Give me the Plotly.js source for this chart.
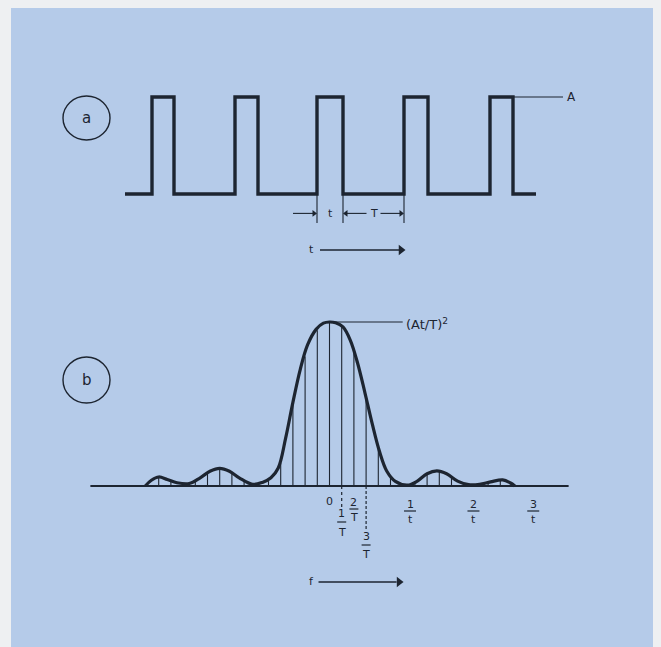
<!DOCTYPE html>
<html><head><meta charset="utf-8">
<script src="https://cdn.plot.ly/plotly-3.0.1.min.js"></script>
<style>html,body{margin:0;padding:0;background:#eef0f2;}#chart{width:661px;height:647px;}</style>
</head><body><div id="chart"></div>
<script>
// ---------- Panel (a): rectangular pulse train (time, arbitrary units) ----------
const pulseStart = 0;
const pulseEnd = 411;
const riseTimes = [27, 110, 192, 279, 365];
const fallTimes = [49, 133, 218, 303, 388];
const pulseAmp = 1;            // A

// ---------- Panel (b): power spectrum (f in units of 1/T, power / (At/T)^2) ----------
const harmonics = [-15,-14,-13,-12,-11,-10,-9,-8,-7,-6,-5,-4,-3,-2,-1,0,1,2,3,4,5,6,7,8,9,10,11,12,13,14,15];
const lineHeights = [0.0,0.055,0.03,0.015,0.025,0.075,0.108,0.085,0.03,0.01,0.03,0.14,0.5,0.79,0.95,1.0,0.975,0.82,0.54,0.23,0.05,0.01,0.02,0.07,0.09,0.05,0.015,0.01,0.02,0.035,0.005];
const envF = [-15.1,-14.6,-14.0,-13.3,-12.5,-11.5,-10.6,-9.8,-9.0,-8.2,-7.4,-6.3,-5.5,-4.8,-4.2,-3.6,-3.0,-2.4,-1.8,-1.1,-0.5,0.0,0.5,1.1,1.7,2.3,2.9,3.5,4.1,4.7,5.4,6.4,7.2,8.0,8.8,9.6,10.5,11.4,12.3,13.2,14.2,14.8,15.2];
const envP = [0.0,0.035,0.055,0.04,0.02,0.015,0.05,0.09,0.108,0.09,0.05,0.01,0.022,0.05,0.11,0.29,0.51,0.71,0.86,0.955,0.993,1.0,0.995,0.97,0.89,0.75,0.57,0.38,0.21,0.09,0.028,0.005,0.03,0.075,0.092,0.075,0.03,0.008,0.01,0.025,0.037,0.02,0.0];
const baselineF = [-19.6, 19.6];
const tickPosT = [1, 2, 3];          // n/T
const tickPosTau = [6.6, 11.8, 16.7]; // n/t
const tickNums = ["1", "2", "3"];

const INK = '#1d2531';
const BLUE = '#b5cbe9';
const FONT = 'DejaVu Sans, Liberation Sans, sans-serif';

// pulse path
const px = [pulseStart], py = [0];
riseTimes.forEach((r, i) => {
  px.push(r, r, fallTimes[i], fallTimes[i]);
  py.push(0, pulseAmp, pulseAmp, 0);
});
px.push(pulseEnd); py.push(0);

// spectral lines
const lx = [], ly = [];
harmonics.forEach((n, i) => { lx.push(n, n, null); ly.push(0, lineHeights[i], null); });

// arrow geometry (panel a): dimension arrows and time arrow
const dimY = -0.2, tArrowY = -0.577;
const tMid = (riseTimes[2] + fallTimes[2]) / 2;
const TMid = (fallTimes[2] + riseTimes[3]) / 2;
// panel b frequency arrow
const fArrowY = -0.585;

const traces = [
  {x: px, y: py, xaxis: 'x', yaxis: 'y', mode: 'lines', line: {color: INK, width: 3.4}, hoverinfo: 'skip'},
  {x: baselineF, y: [0, 0], xaxis: 'x2', yaxis: 'y2', mode: 'lines', line: {color: INK, width: 2}, hoverinfo: 'skip'},
  {x: lx, y: ly, xaxis: 'x2', yaxis: 'y2', mode: 'lines', line: {color: INK, width: 1.1}, hoverinfo: 'skip'},
  {x: envF, y: envP, xaxis: 'x2', yaxis: 'y2', mode: 'lines', line: {color: INK, width: 3.2, shape: 'spline', smoothing: 1.0}, hoverinfo: 'skip'},
  // small dimension arrowheads
  {x: [riseTimes[2] - 3, fallTimes[2] + 3, riseTimes[3] - 3], y: [dimY, dimY, dimY], xaxis: 'x', yaxis: 'y', mode: 'markers',
   marker: {symbol: ['triangle-right', 'triangle-left', 'triangle-right'], size: 6, color: INK}, hoverinfo: 'skip'},
  // time arrowhead
  {x: [276], y: [tArrowY], xaxis: 'x', yaxis: 'y', mode: 'markers', marker: {symbol: 'triangle-right', size: 9, color: INK}, hoverinfo: 'skip'},
  // frequency arrowhead
  {x: [5.7], y: [fArrowY], xaxis: 'x2', yaxis: 'y2', mode: 'markers', marker: {symbol: 'triangle-right', size: 9, color: INK}, hoverinfo: 'skip'}
];

const W = 661, H = 647;
const ln = (xref, yref, x0, x1, y0, y1, w, dash) => ({type: 'line', xref, yref, x0, x1, y0, y1, line: {color: INK, width: w, dash: dash || 'solid'}});
const shapes = [
  {type: 'rect', xref: 'paper', yref: 'paper', x0: 11 / W, x1: 653 / W, y0: 0, y1: 1 - 8 / H, fillcolor: BLUE, line: {width: 0}, layer: 'below'},
  {type: 'circle', xref: 'paper', yref: 'paper', x0: 63 / W, x1: 110 / W, y0: 1 - 140 / H, y1: 1 - 96 / H, line: {color: INK, width: 1.4}},
  {type: 'circle', xref: 'paper', yref: 'paper', x0: 63 / W, x1: 110 / W, y0: 1 - 403 / H, y1: 1 - 357 / H, line: {color: INK, width: 1.4}},
  // A leader
  ln('x', 'y', fallTimes[4], 438, pulseAmp, pulseAmp, 1.2),
  // dimension ticks
  ln('x', 'y', riseTimes[2], riseTimes[2], 0, -0.3, 1.1),
  ln('x', 'y', fallTimes[2], fallTimes[2], 0, -0.3, 1.1),
  ln('x', 'y', riseTimes[3], riseTimes[3], 0, -0.3, 1.1),
  // dimension arrow shafts
  ln('x', 'y', riseTimes[2] - 24, riseTimes[2] - 2, dimY, dimY, 1.1),
  ln('x', 'y', fallTimes[2] + 2, TMid - 7, dimY, dimY, 1.1),
  ln('x', 'y', TMid + 7, riseTimes[3] - 2, dimY, dimY, 1.1),
  // time arrow shaft
  ln('x', 'y', 195, 274, tArrowY, tArrowY, 1.6),
  // peak leader
  ln('x2', 'y2', 0, 6.0, 1, 1, 1.2),
  // frequency arrow shaft
  ln('x2', 'y2', -0.9, 5.5, fArrowY, fArrowY, 1.6),
  // dotted / dashed guides below baseline
  ln('x2', 'y2', tickPosT[0], tickPosT[0], 0, -0.14, 1.2, 'dot'),
  ln('x2', 'y2', tickPosT[2], tickPosT[2], 0, -0.27, 1.2, '3px,2px')
];

const txt = (xref, yref, x, y, text, size, extra) => Object.assign({xref, yref, x, y, text, showarrow: false,
  xanchor: 'center', yanchor: 'middle', font: {family: FONT, size: size, color: INK}}, extra || {});
const annotations = [
  txt('paper', 'paper', 86.5 / W, 1 - 118 / H, 'a', 15),
  txt('paper', 'paper', 86.5 / W, 1 - 380 / H, 'b', 15),
  txt('x', 'y', 440, pulseAmp, 'A', 12, {xanchor: 'left'}),
  txt('x', 'y', tMid, dimY, 't', 11),
  txt('x', 'y', TMid, dimY, 'T', 11),
  txt('x', 'y', 186.5, tArrowY, 't', 11),
  txt('x2', 'y2', 6.1, 1, '(At/T)<sup>2</sup>', 13, {xanchor: 'left', yshift: -2}),
  txt('x2', 'y2', -1.46, fArrowY, 'f', 11),
  txt('x2', 'y2', 0, 0, '0', 11, {yshift: -15})
];

function frac(n, num, den, rowNum, rowBar, rowDen, barW) {
  annotations.push(txt('x2', 'y2', n, 0, num, 11, {yshift: -rowNum}));
  annotations.push(txt('x2', 'y2', n, 0, den, 11, {yshift: -rowDen}));
  shapes.push({type: 'line', xref: 'x2', yref: 'y2', xsizemode: 'pixel', xanchor: n, x0: -barW / 2, x1: barW / 2,
    ysizemode: 'pixel', yanchor: 0, y0: -rowBar, y1: -rowBar, line: {color: INK, width: 1.2}});
}
// 1/T, 2/T, 3/T (staggered rows, pixels below the baseline)
frac(tickPosT[0], tickNums[0], 'T', 27, 36, 46, 9);
frac(tickPosT[1], tickNums[1], 'T', 16, 23, 31, 9);
frac(tickPosT[2], tickNums[2], 'T', 50, 59, 68, 9);
// 1/t, 2/t, 3/t
tickPosTau.forEach((n, i) => frac(n, tickNums[i], 't', 18, 25, 33, 12));

const layout = {
  width: W, height: H, margin: {l: 0, r: 0, t: 0, b: 0},
  paper_bgcolor: '#eef0f2', plot_bgcolor: 'rgba(0,0,0,0)', showlegend: false,
  xaxis: {domain: [0, 1], range: [-125, 536], visible: false, anchor: 'y'},
  yaxis: {domain: [0, 1], range: [-4.670, 2], visible: false, anchor: 'x'},
  xaxis2: {domain: [0, 1], range: [-27.008, 27.172], visible: false, anchor: 'y2'},
  yaxis2: {domain: [0, 1], range: [-0.9817, 2.9634], visible: false, anchor: 'x2'},
  shapes: shapes, annotations: annotations
};
Plotly.newPlot('chart', traces, layout, {staticPlot: true, displayModeBar: false});
</script></body></html>
